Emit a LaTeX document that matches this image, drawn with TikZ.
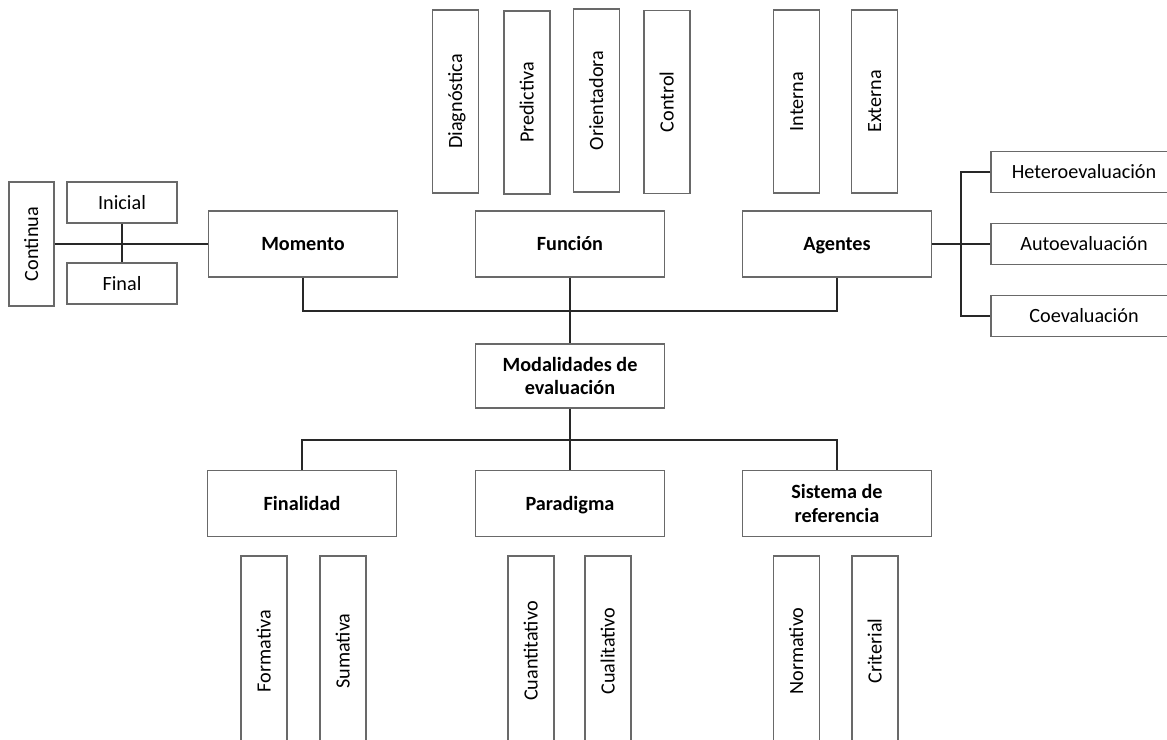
\documentclass[tikz,border=0pt]{standalone}
\usepackage{fontspec}
\setmainfont{Carlito}
\usetikzlibrary{positioning, calc}
\definecolor{BordeGris}{RGB}{105,105,105}
\definecolor{LineaOscura}{RGB}{40,40,40}

\begin{document}
\begin{tikzpicture}[x=0.02cm, y=-0.02cm, font=\fontsize{11.5}{13.5}\selectfont,
	caja/.style={draw=BordeGris, line width=0.7pt, fill=white, align=center, inner sep=2pt,
		text height=9.4pt, text depth=2pt},
	dobles/.style={text height={}, text depth={}},
	principal/.style={caja, minimum width=3.78cm, minimum height=1.32cm,
		font=\fontsize{11.5}{13.5}\selectfont\bfseries},
	vertical/.style={caja, rotate=90, minimum width=3.66cm, minimum height=0.92cm},
	lateral/.style={caja, minimum height=0.82cm},
	enlace/.style={draw=LineaOscura, line width=0.7pt}]
	\useasboundingbox (0,0) rectangle (1167,740);
	\clip (0,0) rectangle (1167,740);

	% nodo central y categorias
	\node[principal, dobles, minimum height=1.28cm] (modalidades) at (570,376) {Modalidades de\\evaluaci\'on};
	\node[principal] (momento) at (303,244) {Momento};
	\node[principal] (funcion) at (570,244) {Funci\'on};
	\node[principal] (agentes) at (837,244) {Agentes};
	\node[principal] (finalidad) at (302,503.5) {Finalidad};
	\node[principal] (paradigma) at (570,503.5) {Paradigma};
	\node[principal, dobles] (sistema) at (837,503.5) {Sistema de\\referencia};

	% tipos de funcion y agentes (arriba)
	\node[vertical] (diag) at (455.5,101.5) {Diagn\'ostica};
	\node[vertical] (pred) at (527,102.5) {Predictiva};
	\node[vertical] (orie) at (596.5,100.5) {Orientadora};
	\node[vertical] (cont) at (667,102) {Control};
	\node[vertical] (inte) at (796.5,101.5) {Interna};
	\node[vertical] (exte) at (874.5,101.5) {Externa};

	% tipos de finalidad, paradigma y sistema (abajo)
	\node[vertical, minimum width=3.8cm] (form) at (264,651) {Formativa};
	\node[vertical, minimum width=3.8cm] (suma) at (343,651) {Sumativa};
	\node[vertical, minimum width=3.8cm] (cuan) at (531,651) {Cuantitativo};
	\node[vertical, minimum width=3.8cm] (cual) at (608,651) {Cualitativo};
	\node[vertical, minimum width=3.8cm] (norm) at (796.5,651) {Normativo};
	\node[vertical, minimum width=3.8cm] (crit) at (875,651) {Criterial};

	% momento
	\node[caja, rotate=90, minimum width=2.48cm, minimum height=0.9cm] (continua) at (31.5,244) {Continua};
	\node[lateral, minimum width=2.2cm] (inicial) at (122,202.5) {Inicial};
	\node[lateral, minimum width=2.2cm] (final) at (122,283.5) {Final};

	% agentes
	\node[lateral, minimum width=3.72cm] (hetero) at (1084,172) {Heteroevaluaci\'on};
	\node[lateral, minimum width=3.72cm] (auto) at (1084,244) {Autoevaluaci\'on};
	\node[lateral, minimum width=3.72cm] (coev) at (1084,316) {Coevaluaci\'on};

	% conexiones
	\coordinate (barra1) at (570,311);
	\coordinate (barra2) at (570,440);
	\coordinate (ramal) at (961,244);
	\draw[enlace] (momento.south) |- (barra1) -| (agentes.south);
	\draw[enlace] (funcion.south) -- (modalidades.north);
	\draw[enlace] (finalidad.north) |- (barra2) -| (sistema.north);
	\draw[enlace] (modalidades.south) -- (paradigma.north);
	\draw[enlace] (continua.south) -- (momento.west);
	\draw[enlace] (inicial.south) -- (final.north);
	\draw[enlace] (agentes.east) -- (auto.west);
	\draw[enlace] (hetero.west) -| (ramal) |- (coev.west);
\end{tikzpicture}
\end{document}
